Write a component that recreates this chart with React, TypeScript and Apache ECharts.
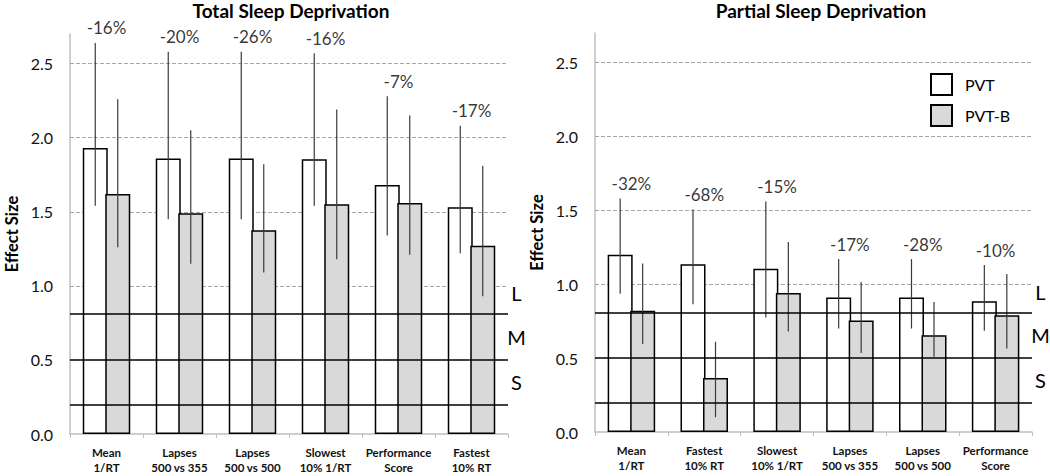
import React, { useEffect, useRef } from 'react';
import * as echarts from 'echarts';

const totalCategories = ['Mean\n1/RT', 'Lapses\n500 vs 355', 'Lapses\n500 vs 500', 'Slowest\n10% 1/RT', 'Performance\nScore', 'Fastest\n10% RT'];
const totalPVT = [1.93, 1.86, 1.86, 1.855, 1.68, 1.53];
const totalPVTLow = [1.54, 1.45, 1.45, 1.54, 1.34, 1.22];
const totalPVTHigh = [2.64, 2.58, 2.58, 2.57, 2.28, 2.08];
const totalPVTB = [1.62, 1.49, 1.375, 1.55, 1.56, 1.27];
const totalPVTBLow = [1.26, 1.15, 1.09, 1.18, 1.21, 0.93];
const totalPVTBHigh = [2.26, 2.05, 1.82, 2.19, 2.15, 1.81];
const totalPct = ['-16%', '-20%', '-26%', '-16%', '-7%', '-17%'];

const partialCategories = ['Mean\n1/RT', 'Fastest\n10% RT', 'Slowest\n10% 1/RT', 'Lapses\n500 vs 355', 'Lapses\n500 vs 500', 'Performance\nScore'];
const partialPVT = [1.2, 1.135, 1.105, 0.91, 0.91, 0.885];
const partialPVTLow = [0.935, 0.865, 0.775, 0.7, 0.7, 0.685];
const partialPVTHigh = [1.58, 1.505, 1.56, 1.17, 1.17, 1.13];
const partialPVTB = [0.82, 0.365, 0.94, 0.755, 0.655, 0.79];
const partialPVTBLow = [0.595, 0.1, 0.68, 0.535, 0.51, 0.565];
const partialPVTBHigh = [1.14, 0.61, 1.285, 1.015, 0.88, 1.07];
const partialPct = ['-32%', '-68%', '-15%', '-17%', '-28%', '-10%'];

const titles = ['Total Sleep Deprivation', 'Partial Sleep Deprivation'];
const gridLevels = [1.0, 1.5, 2.0, 2.5];
const effectThresholds = [0.2, 0.5, 0.81];
const sizeLabels = ['L', 'M', 'S'];
const sizeLabelValues = [0.95, 0.655, 0.35];

const FONT = 'Lato, "Open Sans", sans-serif';
const BAR_W = 25;
const OFFSET = (BAR_W * 0.9) / 2;

const panels = [
  { cats: totalCategories, pvt: totalPVT, pvtLo: totalPVTLow, pvtHi: totalPVTHigh, b: totalPVTB, bLo: totalPVTBLow, bHi: totalPVTBHigh, pct: totalPct },
  { cats: partialCategories, pvt: partialPVT, pvtLo: partialPVTLow, pvtHi: partialPVTHigh, b: partialPVTB, bLo: partialPVTBLow, bHi: partialPVTBHigh, pct: partialPct },
];

const grids = [
  { left: 70, top: 34, width: 438, height: 400, outerBoundsMode: 'none', containLabel: false },
  { left: 595, top: 33, width: 437, height: 399, outerBoundsMode: 'none', containLabel: false },
];
const titleCenters = [291, 821];

function errorSeries(i: number, lo: number[], hi: number[], off: number) {
  return {
    type: 'custom',
    name: 'err' + i + off,
    xAxisIndex: i,
    yAxisIndex: i,
    z: 4,
    silent: true,
    data: lo.map((v, k) => [k, v, hi[k]]),
    encode: { x: 0, y: [1, 2] },
    renderItem: (params: any, api: any) => {
      const idx = api.value(0);
      const a = api.coord([idx, api.value(1)]);
      const b = api.coord([idx, api.value(2)]);
      return {
        type: 'line',
        shape: { x1: a[0] + off, y1: a[1], x2: b[0] + off, y2: b[1] },
        style: { stroke: '#3a3a3a', lineWidth: 1.2 },
      };
    },
  };
}

export default function App() {
  const ref = useRef<HTMLDivElement>(null);
  useEffect(() => {
    const chart = echarts.init(ref.current!, null, { renderer: 'svg' });
    const series: any[] = [];
    panels.forEach((p, i) => {
      series.push({
        type: 'bar',
        name: 'PVT',
        xAxisIndex: i,
        yAxisIndex: i,
        data: p.pvt,
        barWidth: BAR_W,
        barGap: '-10%',
        itemStyle: { color: '#ffffff', borderColor: '#000', borderWidth: 1.5 },
        markLine: {
          silent: true,
          symbol: 'none',
          z: 1,
          label: { show: false },
          lineStyle: { type: 'dashed', color: '#a6a6a6', width: 1 },
          data: gridLevels.map((v) => ({ yAxis: v })),
        },
      });
      series.push({
        type: 'bar',
        name: 'PVT-B',
        xAxisIndex: i,
        yAxisIndex: i,
        data: p.b,
        barWidth: BAR_W,
        barGap: '-10%',
        itemStyle: { color: '#d9d9d9', borderColor: '#000', borderWidth: 1.5 },
        markLine: {
          silent: true,
          symbol: 'none',
          z: 5,
          label: { show: false },
          lineStyle: { type: 'solid', color: '#000', width: 1.5 },
          data: effectThresholds.map((v) => ({ yAxis: v })),
        },
      });
      series.push(errorSeries(i, p.pvtLo, p.pvtHi, -OFFSET));
      series.push(errorSeries(i, p.bLo, p.bHi, OFFSET));
      series.push({
        type: 'scatter',
        name: 'pct' + i,
        xAxisIndex: i,
        yAxisIndex: i,
        data: p.pvtHi,
        symbolSize: 1,
        itemStyle: { color: 'rgba(0,0,0,0)' },
        silent: true,
        label: {
          show: true,
          position: 'top',
          distance: 6,
          formatter: (d: any) => p.pct[d.dataIndex],
          fontSize: 17,
          color: '#000',
          fontFamily: FONT,
        },
      });
    });

    const option: any = {
      animation: false,
      textStyle: { fontFamily: FONT },
      title: titles.map((t, i) => ({
        text: t,
        left: titleCenters[i],
        top: 0,
        padding: 0,
        textAlign: 'center',
        textStyle: { fontSize: 19, lineHeight: 21, fontWeight: 'bold', color: '#000', fontFamily: FONT },
      })),
      legend: {
        data: ['PVT', 'PVT-B'],
        orient: 'vertical',
        left: 930,
        top: 73,
        padding: 0,
        itemWidth: 21,
        itemHeight: 21,
        itemGap: 8,
        icon: 'rect',
        selectedMode: false,
        textStyle: { fontSize: 16, color: '#000', fontFamily: FONT, padding: [0, 0, 0, 8] },
      },
      grid: grids,
      xAxis: panels.map((p, i) => ({
        type: 'category',
        gridIndex: i,
        data: p.cats,
        boundaryGap: true,
        axisLine: { lineStyle: { color: '#bfbfbf', width: 1.5 } },
        axisTick: { show: true, length: 4, lineStyle: { color: '#bfbfbf' } },
        axisLabel: {
          interval: 0,
          fontSize: 11.5,
          fontWeight: 'bold',
          lineHeight: 15,
          margin: 11,
          color: '#111',
          fontFamily: FONT,
        },
        splitLine: { show: false },
      })),
      yAxis: panels.map((p, i) => ({
        type: 'value',
        gridIndex: i,
        min: 0,
        max: 2.7,
        interval: 0.5,
        splitLine: { show: false },
        axisLine: { show: true, lineStyle: { color: '#bfbfbf', width: 1.5 } },
        axisTick: { show: false },
        axisLabel: {
          showMaxLabel: false,
          formatter: (v: number) => (Math.abs(v / 0.5 - Math.round(v / 0.5)) < 1e-6 ? v.toFixed(1) : ''),
          fontSize: 16,
          margin: 17,
          color: '#111',
          fontFamily: FONT,
        },
        name: 'Effect Size',
        nameLocation: 'middle',
        nameGap: 50,
        nameTextStyle: { fontSize: 16.5, fontWeight: 'bold', color: '#000', fontFamily: FONT },
      })),
      series,
    };
    chart.setOption(option);

    const graphics: any[] = [];
    grids.forEach((g, i) => {
      sizeLabels.forEach((t, k) => {
        const y = chart.convertToPixel({ yAxisIndex: i } as any, sizeLabelValues[k]) as number;
        graphics.push({
          type: 'text',
          x: g.left + g.width + 8.5,
          y,
          silent: true,
          style: { text: t, align: 'center', verticalAlign: 'middle', fontSize: 20, fill: '#000', fontFamily: FONT },
        });
      });
    });
    chart.setOption({ graphic: graphics });

    return () => chart.dispose();
  }, []);
  return <div ref={ref} style={{ position: 'absolute', left: 0, top: 0, width: 1050, height: 476 }} />;
}
